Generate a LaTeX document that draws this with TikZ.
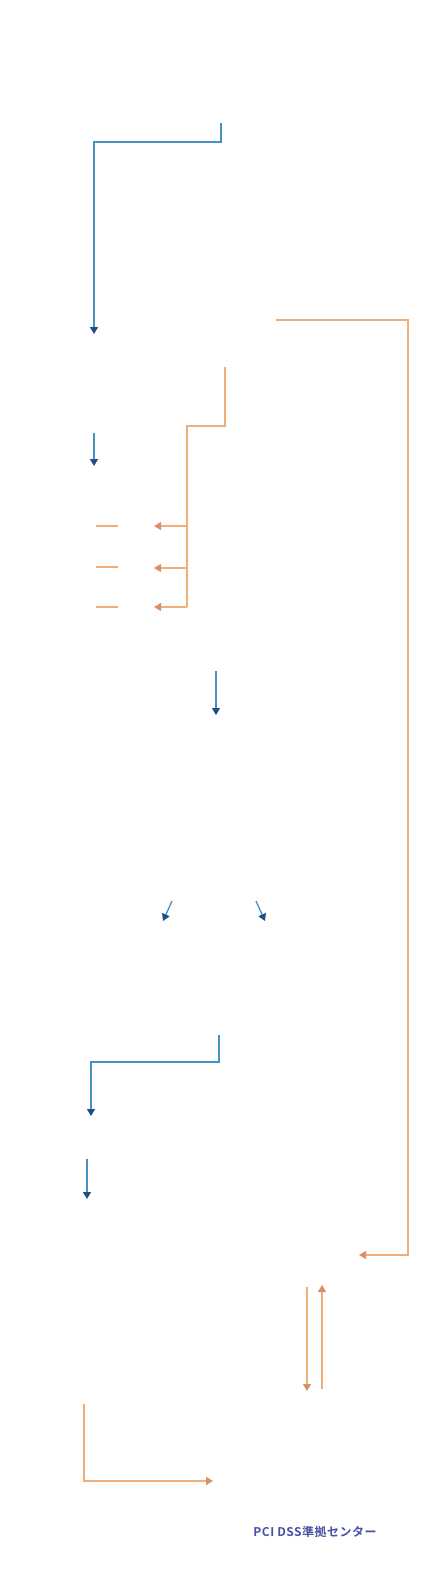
\documentclass[tikz,border=0pt]{standalone}
\usepackage{tikz}
\usetikzlibrary{positioning,arrows.meta}
\usepackage{fontspec}
\newfontfamily\jpfont{Noto Sans CJK JP}[BoldFont={Noto Sans CJK JP Bold},LetterSpace=4]
\definecolor{azul}{HTML}{4592C2}
\definecolor{azulosc}{HTML}{1E4F88}
\definecolor{naranja}{HTML}{F0AE78}
\definecolor{naranjaosc}{HTML}{DA8F66}
\definecolor{morado}{HTML}{4B4FA6}

\begin{document}
\begin{tikzpicture}[x=1pt, y=-1pt,
    flujo/.style={draw=azul, line width=1.3pt, -{Triangle[length=7pt,width=8pt,color=azulosc]}},
    datos/.style={draw=naranja, line width=1.3pt, -{Triangle[length=7pt,width=8pt,color=naranjaosc]}},
    raya/.style={draw=naranja, line width=1.3pt},
    etiqueta/.style={font=\jpfont\bfseries\fontsize{12}{14}\selectfont, text=morado, inner sep=0pt}]
    \useasboundingbox (0,0) rectangle (440,1589);
    % flujo principal
    \coordinate (a1) at (221,123);
    \coordinate (a2) at (94,334);
    \draw[flujo] (a1) -- (a1 |- 0,142) -| (a2);
    \coordinate (b1) at (94,433);
    \coordinate (b2) at (94,466);
    \draw[flujo] (b1) -- (b2);
    % ramas naranja
    \coordinate (c0) at (225,367);
    \coordinate (cx) at (187,426);
    \coordinate (c1) at (154,526);
    \coordinate (c2) at (154,568);
    \coordinate (c3) at (154,607);
    \draw[raya] (c0) |- (cx) -- (cx |- c3);
    \foreach \n in {1,2,3} \draw[datos] (cx |- c\n) -- (c\n);
    \foreach \y [count=\i] in {526,567,607} {
      \coordinate (d\i) at (96,\y);
      \coordinate (e\i) at (118,\y);
      \draw[raya] (d\i) -- (e\i);
    }
    \coordinate (f1) at (216,671);
    \coordinate (f2) at (216,715);
    \draw[flujo] (f1) -- (f2);
    \coordinate (g1) at (172,901);
    \coordinate (g2) at (163,921);
    \draw[flujo] (g1) -- (g2);
    \coordinate (h1) at (256,901);
    \coordinate (h2) at (265,921);
    \draw[flujo] (h1) -- (h2);
    \coordinate (i1) at (219,1035);
    \coordinate (i2) at (91,1116);
    \draw[flujo] (i1) -- (i1 |- 0,1062) -| (i2);
    \coordinate (j1) at (87,1159);
    \coordinate (j2) at (87,1199);
    \draw[flujo] (j1) -- (j2);
    % retorno largo
    \coordinate (k1) at (276,320);
    \coordinate (k2) at (408,320);
    \coordinate (k3) at (359,1255);
    \draw[datos] (k1) -- (k2) |- (k3);
    \coordinate (m1) at (307,1287);
    \coordinate (m2) at (307,1391);
    \draw[datos] (m1) -- (m2);
    \coordinate (n1) at (322,1389);
    \coordinate (n2) at (322,1285);
    \draw[datos] (n1) -- (n2);
    \coordinate (p1) at (84,1404);
    \coordinate (p2) at (213,1481);
    \draw[datos] (p1) |- (p2);
    \node[etiqueta] (centro) at (315,1532) {PCI DSS準拠センター};
\end{tikzpicture}
\end{document}
